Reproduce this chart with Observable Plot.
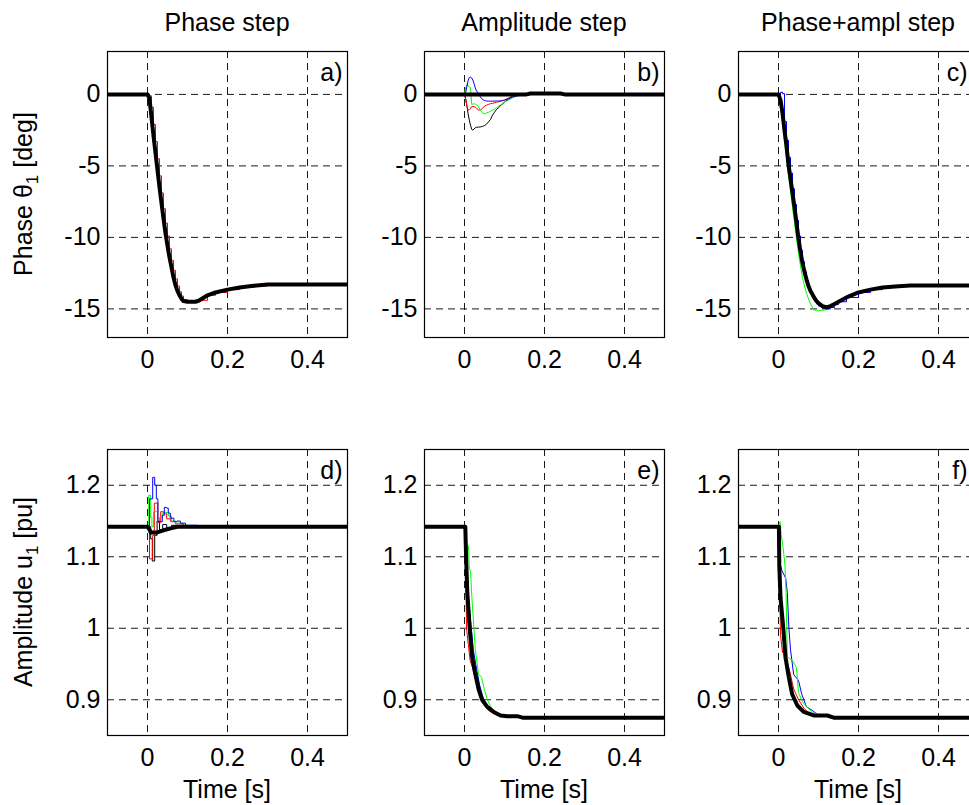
<!DOCTYPE html>
<html><head><meta charset="utf-8">
<script src="https://cdn.jsdelivr.net/npm/d3@7"></script>
<script src="https://cdn.jsdelivr.net/npm/@observablehq/plot@0.6"></script>
<style>
html,body{margin:0;padding:0;background:#fff;overflow:hidden;}
#fig{position:relative;width:969px;height:805px;overflow:hidden;background:#fff;}
</style></head><body><div id="fig"></div>
<script>
// ---------- text ----------
const titles = ["Phase step", "Amplitude step", "Phase+ampl step"];
const tags = [["a)", "b)", "c)"], ["d)", "e)", "f)"]];
const xLabel = "Time [s]";
const yLabelTop = ["Phase \u03b8", "1", " [deg]"];
const yLabelBottom = ["Amplitude u", "1", " [pu]"];
const xTicks = [0, 0.2, 0.4];
const yTicksTop = [-15, -10, -5, 0];
const yTicksBottom = [0.9, 1, 1.1, 1.2];
const xDomain = [-0.1, 0.5];
const yDomainTop = [-17, 3];
const yDomainBottom = [0.85, 1.25];

// ---------- panel a (phase step, phase) ----------
const tA = [-0.1, 0, 0.005, 0.01, 0.015, 0.02, 0.025, 0.03, 0.035, 0.04, 0.045, 0.05, 0.055, 0.06, 0.065, 0.07, 0.075, 0.08, 0.085, 0.09, 0.1, 0.11, 0.12, 0.13, 0.15, 0.17, 0.2, 0.23, 0.26, 0.3, 0.5];
const aBlack = [0, 0, -0.3, -1.6, -2.9, -4.1, -5.3, -6.5, -7.6, -8.7, -9.7, -10.6, -11.4, -12.1, -12.8, -13.35, -13.75, -14.05, -14.3, -14.45, -14.5, -14.5, -14.5, -14.4, -14.05, -13.85, -13.65, -13.5, -13.4, -13.3, -13.3];
const aRed = [0, 0, -0.1, -0.9, -2.1, -3.3, -4.5, -5.7, -6.9, -8.0, -9.0, -9.9, -10.8, -11.6, -12.3, -12.9, -13.4, -13.8, -14.1, -14.35, -14.5, -14.5, -14.5, -14.4, -14.05, -13.85, -13.65, -13.5, -13.4, -13.3, -13.3];
const aBlue = [0, 0, -0.2, -1.5, -2.8, -4.0, -5.2, -6.4, -7.5, -8.6, -9.6, -10.5, -11.3, -12.0, -12.7, -13.3, -13.7, -14.0, -14.3, -14.45, -14.5, -14.5, -14.5, -14.4, -14.05, -13.85, -13.65, -13.5, -13.4, -13.3, -13.3];
const aGreen = [0, 0, -0.4, -1.8, -3.1, -4.3, -5.5, -6.7, -7.8, -8.9, -9.9, -10.8, -11.6, -12.3, -13.0, -13.5, -13.85, -14.15, -14.35, -14.5, -14.55, -14.5, -14.5, -14.4, -14.05, -13.85, -13.65, -13.5, -13.4, -13.3, -13.3];

// ---------- panel b (amplitude step, phase) ----------
const tB = [0, 0.003, 0.006, 0.009, 0.012, 0.015, 0.018, 0.021, 0.024, 0.027, 0.03, 0.035, 0.04, 0.045, 0.05, 0.055, 0.06, 0.065, 0.07, 0.075, 0.08, 0.085, 0.09, 0.095, 0.1, 0.11, 0.12, 0.13, 0.14, 0.15, 0.16];
const bBlue = [0, 0.15, 0.55, 0.95, 1.18, 1.21, 1.15, 1.0, 0.75, 0.45, 0.25, 0.05, -0.19, -0.35, -0.43, -0.46, -0.47, -0.47, -0.47, -0.47, -0.46, -0.46, -0.45, -0.43, -0.4, -0.3, -0.19, -0.11, -0.07, -0.03, 0];
const bGreen = [0, 0.5, 0.68, 0.6, 0.55, 0.45, -0.7, -0.68, -0.65, -0.68, -0.72, -0.85, -1.12, -1.3, -1.35, -1.3, -1.25, -1.18, -1.1, -1.02, -0.93, -0.83, -0.73, -0.63, -0.53, -0.4, -0.24, -0.11, -0.03, 0, 0];
const bRed = [0, -0.35, -0.8, -1.1, -1.05, -1.0, -0.86, -0.84, -0.87, -0.89, -0.95, -1.1, -1.08, -0.98, -0.82, -0.75, -0.7, -0.65, -0.62, -0.59, -0.55, -0.52, -0.48, -0.44, -0.4, -0.26, -0.11, 0, 0, 0, 0];
const bThinBlack = [0, -0.3, -0.8, -1.35, -1.8, -2.15, -2.45, -2.5, -2.42, -2.33, -2.3, -2.29, -2.27, -2.24, -2.18, -2.08, -1.92, -1.75, -1.45, -1.25, -1.05, -0.93, -0.8, -0.66, -0.54, -0.32, -0.13, -0.02, 0, 0, 0];
const tBk = [-0.1, 0.155, 0.165, 0.24, 0.25, 0.5];
const bBlack = [0, 0, 0.06, 0.06, 0, 0];

// ---------- panel c (phase+ampl step, phase) ----------
const tC = [-0.1, 0, 0.005, 0.01, 0.015, 0.02, 0.025, 0.03, 0.035, 0.04, 0.045, 0.05, 0.055, 0.06, 0.065, 0.07, 0.075, 0.08, 0.085, 0.09, 0.095, 0.1, 0.11, 0.12, 0.13, 0.14, 0.15, 0.17, 0.2, 0.23, 0.26, 0.3, 0.33, 0.5];
const cBlack = [0, 0, -0.4, -1.3, -2.5, -3.6, -4.9, -5.9, -6.9, -7.9, -9.0, -10.1, -11.0, -11.8, -12.4, -12.95, -13.4, -13.75, -14.0, -14.25, -14.45, -14.6, -14.8, -14.9, -14.8, -14.65, -14.5, -14.2, -13.85, -13.65, -13.5, -13.42, -13.37, -13.37];
const cBlue = [0, 0, 0.15, 0.05, -1.9, -3.2, -4.4, -5.5, -6.6, -7.7, -8.8, -9.9, -10.9, -11.7, -12.4, -13.0, -13.5, -13.9, -14.2, -14.45, -14.65, -14.8, -14.95, -15.0, -14.9, -14.7, -14.5, -14.2, -13.85, -13.65, -13.5, -13.42, -13.37, -13.37];
const cGreen = [0, 0, -0.8, -2.0, -3.3, -4.5, -5.7, -6.8, -7.9, -9.0, -10.1, -11.1, -12.0, -12.8, -13.4, -13.9, -14.3, -14.65, -14.9, -15.1, -15.1, -15.1, -15.1, -15.05, -14.9, -14.7, -14.5, -14.2, -13.85, -13.65, -13.5, -13.42, -13.37, -13.37];
const cRed = [0, 0, -0.3, -1.2, -2.4, -3.6, -4.8, -5.9, -7.0, -8.0, -9.1, -10.2, -11.1, -11.9, -12.5, -13.05, -13.5, -13.85, -14.1, -14.35, -14.55, -14.7, -14.9, -14.95, -14.85, -14.65, -14.5, -14.2, -13.85, -13.65, -13.5, -13.42, -13.37, -13.37];

// ---------- panel d (phase step, amplitude) [time, value] ----------
const dBlack = [[-0.1,1.142],[0,1.142],[0.005,1.138],[0.008,1.134],[0.024,1.134],[0.04,1.137],[0.06,1.14],[0.075,1.142],[0.5,1.142]];
const dBlue = [[0,1.142],[0.005,1.181],[0.013,1.211],[0.018,1.2],[0.022,1.181],[0.026,1.149],[0.033,1.149],[0.037,1.158],[0.042,1.169],[0.048,1.168],[0.052,1.161],[0.057,1.154],[0.066,1.149],[0.074,1.15],[0.082,1.147],[0.095,1.144],[0.124,1.143]];
const dGreen = [[0,1.142],[0.003,1.186],[0.008,1.155],[0.011,1.142],[0.015,1.163],[0.021,1.163],[0.025,1.15],[0.03,1.155],[0.037,1.161],[0.045,1.162],[0.052,1.157],[0.06,1.15],[0.07,1.147],[0.085,1.144],[0.1,1.143]];
const dRed = [[0,1.142],[0.005,1.097],[0.013,1.13],[0.017,1.175],[0.026,1.148],[0.033,1.163],[0.04,1.16],[0.048,1.153],[0.058,1.149],[0.07,1.146],[0.09,1.143]];
const dThinBlack = [[0,1.142],[0.008,1.125],[0.012,1.094],[0.018,1.13],[0.024,1.15],[0.03,1.138],[0.038,1.145],[0.048,1.141],[0.06,1.144],[0.075,1.142]];

// ---------- panel e (amplitude step, amplitude) ----------
const eBlack = [[-0.1,1.142],[0.002,1.142],[0.004,1.1],[0.007,1.05],[0.013,1.0],[0.019,0.96],[0.027,0.936],[0.036,0.913],[0.044,0.9],[0.057,0.89],[0.073,0.883],[0.09,0.878],[0.107,0.877],[0.132,0.877],[0.145,0.875],[0.5,0.875]];
const eGreen = [[0,1.142],[0.005,1.117],[0.01,1.115],[0.012,1.084],[0.015,1.08],[0.019,1.038],[0.023,1.005],[0.027,0.97],[0.035,0.936],[0.043,0.931],[0.048,0.918],[0.057,0.9],[0.07,0.886],[0.085,0.879],[0.1,0.877],[0.13,0.876]];
const eRed = [[0,1.142],[0.003,1.1],[0.005,1.0],[0.01,0.975],[0.014,0.955],[0.02,0.945],[0.03,0.925],[0.04,0.905],[0.048,0.893],[0.06,0.885],[0.075,0.88],[0.09,0.877],[0.12,0.876]];
const eBlue = [[0,1.142],[0.003,1.1],[0.007,1.06],[0.012,1.03],[0.017,1.0],[0.022,0.97],[0.028,0.95],[0.038,0.92],[0.048,0.9],[0.058,0.89],[0.07,0.884],[0.085,0.879],[0.1,0.877],[0.12,0.876]];

// ---------- panel f (phase+ampl step, amplitude) ----------
const fBlack = [[-0.1,1.142],[0.001,1.142],[0.002,1.087],[0.005,1.043],[0.012,1.0],[0.0175,0.959],[0.026,0.931],[0.034,0.908],[0.047,0.892],[0.063,0.883],[0.088,0.878],[0.122,0.878],[0.138,0.875],[0.5,0.875]];
const fGreen = [[0,1.142],[0.004,1.149],[0.007,1.13],[0.012,1.11],[0.016,1.09],[0.019,1.05],[0.022,0.96],[0.035,0.955],[0.045,0.945],[0.05,0.91],[0.06,0.897],[0.075,0.888],[0.09,0.88],[0.11,0.877]];
const fBlue = [[0,1.142],[0.004,1.09],[0.009,1.08],[0.018,1.07],[0.022,1.05],[0.026,1.0],[0.03,0.97],[0.038,0.935],[0.05,0.927],[0.058,0.908],[0.07,0.89],[0.085,0.885],[0.1,0.878],[0.12,0.877]];
const fRed = [[0,1.142],[0.002,1.08],[0.005,0.99],[0.01,0.966],[0.014,0.98],[0.018,0.96],[0.028,0.94],[0.038,0.915],[0.05,0.9],[0.065,0.887],[0.08,0.88],[0.1,0.877]];

// ---------- build ----------
const FONT = '"Liberation Sans", Arial, Helvetica, sans-serif';
const FS = 25;
const frameW = 240, frameH = 286;
const colX = [107, 424, 738];
const rowY = [51, 449];
const M = {l: 62, r: 12, t: 20, b: 48};
const BLUE = "#0000ff", GREEN = "#00ff00", RED = "#ff0000", BLACK = "#000000";

const zip = (t, v) => t.map((d, i) => ({t: d, v: v[i]}));
const pairs = p => p.map(([t, v]) => ({t, v}));

const panels = [
  {r: 0, c: 0, thick: zip(tA, aBlack), thin: [
    {d: zip(tA, aGreen), s: GREEN}, {d: zip(tA, aBlue), s: BLUE}, {d: zip(tA, aRed), s: RED, curve: "step-after"}]},
  {r: 0, c: 1, thick: zip(tBk, bBlack), thin: [
    {d: zip(tB, bThinBlack), s: BLACK}, {d: zip(tB, bRed), s: RED}, {d: zip(tB, bGreen), s: GREEN}, {d: zip(tB, bBlue), s: BLUE}]},
  {r: 0, c: 2, thick: zip(tC, cBlack), thin: [
    {d: zip(tC, cRed), s: RED}, {d: zip(tC, cGreen), s: GREEN}, {d: zip(tC, cBlue), s: BLUE, curve: "step-after"}]},
  {r: 1, c: 0, thick: pairs(dBlack), thin: [
    {d: pairs(dThinBlack), s: BLACK, curve: "step-after"}, {d: pairs(dRed), s: RED, curve: "step-after"},
    {d: pairs(dGreen), s: GREEN, curve: "step-after"}, {d: pairs(dBlue), s: BLUE, curve: "step-after"}]},
  {r: 1, c: 1, thick: pairs(eBlack), thin: [
    {d: pairs(eRed), s: RED}, {d: pairs(eBlue), s: BLUE}, {d: pairs(eGreen), s: GREEN}]},
  {r: 1, c: 2, thick: pairs(fBlack), thin: [
    {d: pairs(fRed), s: RED}, {d: pairs(fBlue), s: BLUE}, {d: pairs(fGreen), s: GREEN}]}
];

const fig = document.getElementById("fig");

for (const p of panels) {
  const yTicks = p.r === 0 ? yTicksTop : yTicksBottom;
  const yDomain = p.r === 0 ? yDomainTop : yDomainBottom;
  const dash = {stroke: BLACK, strokeOpacity: 0.9, strokeWidth: 1, strokeDasharray: "7,5"};
  const chart = Plot.plot({
    width: frameW + M.l + M.r,
    height: frameH + M.t + M.b,
    marginLeft: M.l, marginRight: M.r, marginTop: M.t, marginBottom: M.b,
    style: {fontFamily: FONT, fontSize: FS + "px", color: BLACK, background: "transparent", overflow: "visible"},
    x: {domain: xDomain, ticks: xTicks, tickSize: 0, tickPadding: 13, tickFormat: d => String(d), label: null},
    y: {domain: yDomain, ticks: yTicks, tickSize: 0, tickPadding: 7, tickFormat: d => String(d), label: null},
    marks: [
      Plot.ruleX(xTicks, dash),
      Plot.ruleY(yTicks, dash),
      ...p.thin.map(s => Plot.line(s.d, {x: "t", y: "v", stroke: s.s, strokeWidth: 1, curve: s.curve || "linear"})),
      Plot.line(p.thick, {x: "t", y: "v", stroke: BLACK, strokeWidth: 4, strokeLinejoin: "round", strokeLinecap: "butt"}),
      Plot.frame({stroke: BLACK, strokeWidth: 1.2}),
      Plot.text([tags[p.r][p.c]], {text: d => d, frameAnchor: "top-right", dx: p.c === 2 ? -11 : -5, dy: 12, fontSize: FS, fill: BLACK})
    ]
  });
  chart.style.position = "absolute";
  chart.style.left = (colX[p.c] - M.l) + "px";
  chart.style.top = (rowY[p.r] - M.t) + "px";
  fig.appendChild(chart);
}

// ---------- titles and axis labels ----------
const ov = d3.select(fig).append("svg")
  .attr("width", 969).attr("height", 805)
  .style("position", "absolute").style("left", "0px").style("top", "0px")
  .style("pointer-events", "none")
  .attr("font-family", FONT).attr("font-size", FS).attr("fill", BLACK);

titles.forEach((t, i) => {
  ov.append("text").attr("x", colX[i] + frameW / 2).attr("y", 31)
    .attr("text-anchor", "middle").text(t);
  ov.append("text").attr("x", colX[i] + frameW / 2).attr("y", 798)
    .attr("text-anchor", "middle").text(xLabel);
});

function yLabel(cy, parts) {
  const t = ov.append("text")
    .attr("transform", `translate(32,${cy}) rotate(-90)`)
    .attr("text-anchor", "middle");
  t.append("tspan").text(parts[0]);
  t.append("tspan").attr("dy", 6).attr("font-size", 17).text(parts[1]);
  t.append("tspan").attr("dy", -6).text(parts[2]);
}
yLabel(rowY[0] + frameH / 2, yLabelTop);
yLabel(rowY[1] + frameH / 2, yLabelBottom);
</script>
</body></html>
